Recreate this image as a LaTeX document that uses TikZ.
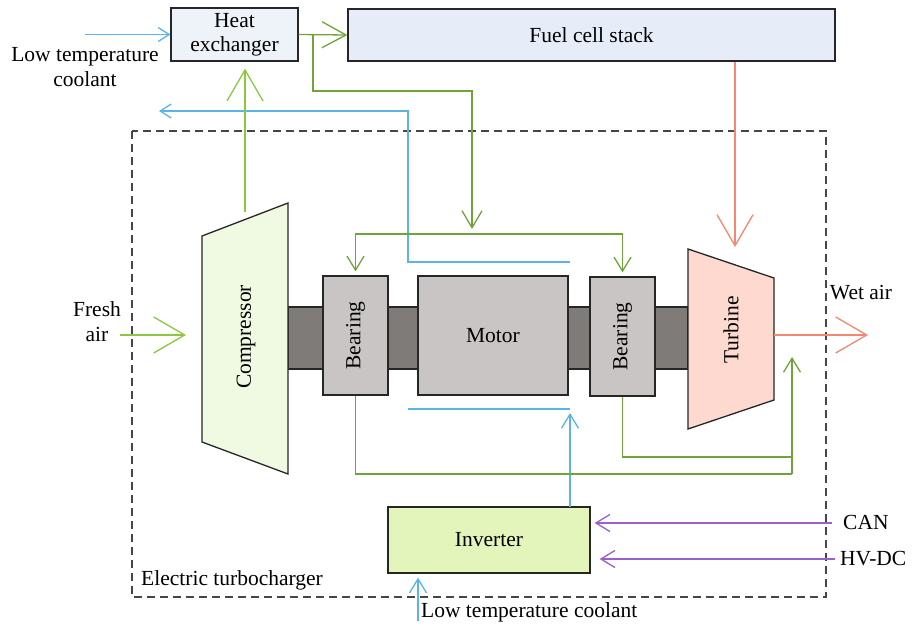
\documentclass[tikz,border=0pt]{standalone}
\usepackage{fontspec}
\setmainfont{Liberation Serif}
\usetikzlibrary{arrows.meta}
\definecolor{limeg}{RGB}{141,198,63}
\definecolor{oilg}{RGB}{112,163,58}
\definecolor{coolb}{RGB}{91,180,229}
\definecolor{hotr}{RGB}{244,135,111}
\definecolor{sigp}{RGB}{155,95,207}
\definecolor{hxfill}{RGB}{238,243,250}
\definecolor{fcfill}{RGB}{230,237,248}
\definecolor{compfill}{RGB}{240,249,225}
\definecolor{bearfill}{RGB}{201,197,196}
\definecolor{shaftfill}{RGB}{127,123,120}
\definecolor{turbfill}{RGB}{253,217,208}
\definecolor{invfill}{RGB}{228,245,188}
\definecolor{dashc}{RGB}{70,70,70}
\begin{document}
\begin{tikzpicture}[x=1pt,y=-1pt,
  font=\fontsize{21.5}{25}\selectfont,
  box/.style={draw=black!85, line width=1.3pt, inner sep=0pt, align=center},
  flow/.style={line width=1.3pt},
  hugehead/.style={-{Straight Barb[length=31pt,width=36pt,line width=1.3pt]}},
  bighead/.style={-{Straight Barb[length=24pt,width=26pt,line width=1.3pt]}},
  midhead/.style={-{Straight Barb[length=17pt,width=20pt,line width=1.3pt]}},
  smallhead/.style={-{Straight Barb[length=14pt,width=17pt,line width=1.3pt]}},
  tinyhead/.style={-{Straight Barb[length=11pt,width=14pt,line width=1.3pt]}},
  twohead/.style={{Straight Barb[length=14pt,width=17pt,line width=1.3pt]}-{Straight Barb[length=14pt,width=17pt,line width=1.3pt]}},
  lbl/.style={inner sep=0pt, align=center}
]
\useasboundingbox (0,0) rectangle (915,629);

% dashed enclosure
\draw[dashc, line width=1.3pt, dash pattern=on 8pt off 5pt] (132,131) rectangle (826,597);

% boxes
\node[box, fill=hxfill, minimum width=127pt, minimum height=53pt] (hx) at (234.5,34.5) {Heat\\[-1pt]exchanger};
\node[box, fill=fcfill, minimum width=487pt, minimum height=52pt] (fc) at (591.5,35) {Fuel cell stack};
\node[box, fill=invfill, minimum width=202pt, minimum height=66pt] (inv) at (489,540) {Inverter};

% shaft
\node[box, fill=shaftfill, minimum width=400pt, minimum height=62pt] (shaft) at (488,338) {};
\node[box, fill=bearfill, minimum width=65pt, minimum height=119pt] (b1) at (355.5,335.5) {};
\node[box, fill=bearfill, minimum width=150pt, minimum height=119pt] (motor) at (493,335.5) {Motor};
\node[box, fill=bearfill, minimum width=65pt, minimum height=119pt] (b2) at (622.5,336.5) {};
\node[lbl, rotate=90] (b1t) at (b1) {Bearing};
\node[lbl, rotate=90] (b2t) at (b2) {Bearing};

% compressor and turbine
\draw[black!85, line width=1.3pt, fill=compfill] (202,236) coordinate (c1) -- (288,203) coordinate (c2) -- (288,474) coordinate (c3) -- (202,442) coordinate (c4) -- cycle;
\node[lbl, rotate=90] (comp) at (246,337) {Compressor};
\draw[black!85, line width=1.3pt, fill=turbfill] (688,249) coordinate (t1) -- (774,278) coordinate (t2) -- (774,400) coordinate (t3) -- (688,429) coordinate (t4) -- cycle;
\node[lbl, rotate=90] (turb) at (731,330) {Turbine};

% texts
\node[lbl] (ltc) at (85,67) {Low temperature\\coolant};
\node[lbl] (fresh) at (97,322) {Fresh\\air};
\node[lbl] (wet) at (861,293) {Wet air};
\node[lbl, anchor=west] (et) at (141,580) {Electric turbocharger};
\node[lbl, anchor=west] (ltc2) at (421,612) {Low temperature coolant};
\node[lbl, anchor=west] (can) at (843,522) {CAN};
\node[lbl, anchor=west] (hvdc) at (840,559) {HV-DC};

% coordinates
\coordinate (cin) at (85,34.5);
\coordinate (br) at (313,34.5);
\coordinate (brc) at (472,91);
\coordinate (brt) at (472,229);
\coordinate (oilbar) at (490,234);
\coordinate (compout) at (245,212);
\coordinate (fa) at (120,335);
\coordinate (fatip) at (186,335);
\coordinate (bl1) at (570,262);
\coordinate (blc) at (408,111);
\coordinate (blout) at (159,111);
\coordinate (invtop) at (570,507);
\coordinate (mctip) at (570,413);
\coordinate (mcl) at (408,409);
\coordinate (mcr) at (570,409);
\coordinate (btc) at (418,621);
\coordinate (canst) at (832,523);
\coordinate (hvst) at (835,559);
\coordinate (hotx) at (735,247);
\coordinate (turbout) at (774,335);
\coordinate (wettip) at (868,335);
\coordinate (retc) at (792,474);
\coordinate (retc2) at (792,457);
\coordinate (rettip) at (792,357);

% coolant
\draw[coolb, flow, tinyhead] (cin) -- (hx.west);
\draw[coolb, flow, tinyhead] (bl1) -| (blc) -- (blout);
\draw[coolb, flow, smallhead] (invtop) -- (mctip);
\draw[coolb, flow] (mcl) -- (mcr);
\draw[coolb, flow, smallhead, shorten >=4pt] (btc) -- (btc |- inv.south);

% air
\draw[oilg, flow, bighead] (hx.east) -- (fc.west);
\draw[limeg, flow, hugehead, shorten >=7pt] (compout) -- (compout |- hx.south);
\draw[limeg, flow, hugehead] (fa) -- (fatip);
\draw[hotr, flow, hugehead] (hotx |- fc.south) -- (hotx);
\draw[hotr, flow, hugehead] (turbout) -- (wettip);

% oil
\draw[oilg, flow, midhead] (br) |- (brc) -- (brt);
\draw[oilg, flow, twohead, shorten <=4pt, shorten >=4pt] (b1.north) |- (oilbar) -| (b2.north);
\draw[oilg, flow] (b1.south) |- (retc);
\draw[oilg, flow] (b2.south) |- (retc2);
\draw[oilg, flow, smallhead] (retc) -- (rettip);

% signals
\draw[sigp, flow, smallhead, shorten >=4pt] (canst) -- (canst -| inv.east);
\draw[sigp, flow, smallhead, shorten >=9pt] (hvst) -- (hvst -| inv.east);
\end{tikzpicture}
\end{document}
